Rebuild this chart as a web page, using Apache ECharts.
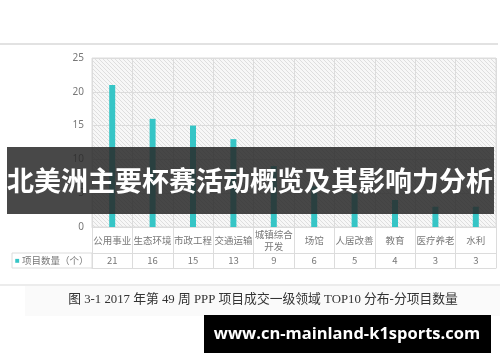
<!DOCTYPE html>
<html>
<head>
<meta charset="utf-8">
<script src="https://cdn.jsdelivr.net/npm/echarts@6/dist/echarts.min.js"></script>
<style>
html,body{margin:0;padding:0;background:#fff;}
#chart{width:500px;height:362px;}
</style>
</head>
<body>
<div id="chart"></div>
<script>
const categories = ['公用事业','生态环境','市政工程','交通运输','城镇综合开发','场馆','人居改善','教育','医疗养老','水利'];
const projectCounts = [21,16,15,13,9,6,5,4,3,3];
const seriesName = '项目数量（个）';
const yTicks = {min:0, max:25, interval:5};
const bannerTitle = '北美洲主要杯赛活动概览及其影响力分析';
const captionText = '图 3-1 2017 年第 49 周 PPP 项目成交一级领域 TOP10 分布-分项目数量';
const watermarkText = 'www.cn-mainland-k1sports.com';

const barColor = '#36c5c6';
const lineColor = '#dcdcdc';
const textColor = '#777';

// hatch pattern for plot background
const pc = document.createElement('canvas');
pc.width = 4; pc.height = 4;
const ctx = pc.getContext('2d');
ctx.fillStyle = '#f7f7f7';
ctx.fillRect(0,0,4,4);
ctx.strokeStyle = '#dedede';
ctx.lineWidth = 1;
for (let i=-4;i<=4;i+=4){ctx.beginPath();ctx.moveTo(i,0);ctx.lineTo(i+4,4);ctx.stroke();}

const chart = echarts.init(document.getElementById('chart'), null, {renderer:'canvas'});
const gridL = 92, gridR = 4, gridT = 58, gridB = 135;

chart.setOption({
  animation:false,
  backgroundColor:'#fff',
  grid:{left:gridL,right:gridR,top:gridT,bottom:gridB,show:true,
        backgroundColor:{image:pc,repeat:'repeat'},borderColor:lineColor,borderWidth:1},
  xAxis:[
    {type:'category',data:categories,position:'bottom',
     axisLine:{show:true,lineStyle:{color:lineColor}},
     axisTick:{show:true,interval:0,length:41,lineStyle:{color:lineColor}},
     splitLine:{show:true,interval:0,lineStyle:{color:lineColor}},
     axisLabel:{interval:0,margin:13.5,fontSize:9.5,color:textColor,lineHeight:12,
       verticalAlign:'middle',
       fontFamily:'Noto Sans CJK SC',
       formatter:s=>s.length>4?s.slice(0,4)+'\n'+s.slice(4):s}},
    {type:'category',data:projectCounts.map(String),position:'bottom',offset:26,
     axisLine:{show:true,lineStyle:{color:lineColor}},
     axisTick:{show:false},splitLine:{show:false},
     axisLabel:{interval:0,margin:3,fontSize:9.5,color:textColor,fontFamily:'Noto Sans CJK SC'}},
    {type:'category',data:categories,position:'bottom',offset:41,
     axisLine:{show:true,lineStyle:{color:lineColor}},
     axisTick:{show:false},splitLine:{show:false},axisLabel:{show:false}}
  ],
  yAxis:{type:'value',min:yTicks.min,max:yTicks.max,interval:yTicks.interval,
    axisLine:{show:false},axisTick:{show:false},
    splitLine:{show:true,lineStyle:{color:lineColor}},
    axisLabel:{fontSize:10,color:textColor,margin:8,fontFamily:'Noto Sans'}},
  series:[{type:'bar',name:seriesName,data:projectCounts,barWidth:6,
    itemStyle:{color:barColor}}],
  graphic:[
    {type:'line',shape:{x1:0,y1:44,x2:498,y2:44},style:{stroke:'#e2e2e2',lineWidth:2},z:1},
    {type:'rect',shape:{x:12,y:253,width:80,height:15},style:{fill:'none',stroke:lineColor,lineWidth:1},z:1},
    {type:'text',x:15,y:260.5,style:{text:'■',fill:barColor,fontSize:8,verticalAlign:'middle'},z:2},
    {type:'text',x:22,y:260.5,style:{text:seriesName,fill:textColor,fontSize:9.5,fontFamily:'Noto Sans CJK SC',verticalAlign:'middle'},z:2},
    {type:'line',shape:{x1:0,y1:285,x2:500,y2:285},style:{stroke:'#e6e6e6',lineWidth:1.5},z:1},
    {type:'rect',shape:{x:25,y:286,width:475,height:30},style:{fill:'#fafafa'},z:0},
    {type:'text',x:263,y:300,style:{text:captionText,fill:'#333',fontSize:12.8,
      fontFamily:"'Liberation Serif','Noto Sans CJK SC'",align:'center',verticalAlign:'middle'},z:2},
    {type:'rect',shape:{x:7,y:147,width:487,height:67},style:{fill:'rgba(40,40,40,0.85)'},z:100},
    {type:'text',x:250,y:181,style:{text:bannerTitle,fill:'#fff',fontSize:27,fontWeight:'bold',
      fontFamily:'Noto Sans CJK SC',align:'center',verticalAlign:'middle'},z:101},
    {type:'rect',shape:{x:204,y:315,width:287,height:38},style:{fill:'#000'},z:100},
    {type:'text',x:347,y:334,style:{text:watermarkText,fill:'#fff',fontSize:16.5,fontWeight:'bold',
      fontFamily:'Open Sans',align:'center',verticalAlign:'middle'},z:101}
  ]
});
</script>
</body>
</html>
